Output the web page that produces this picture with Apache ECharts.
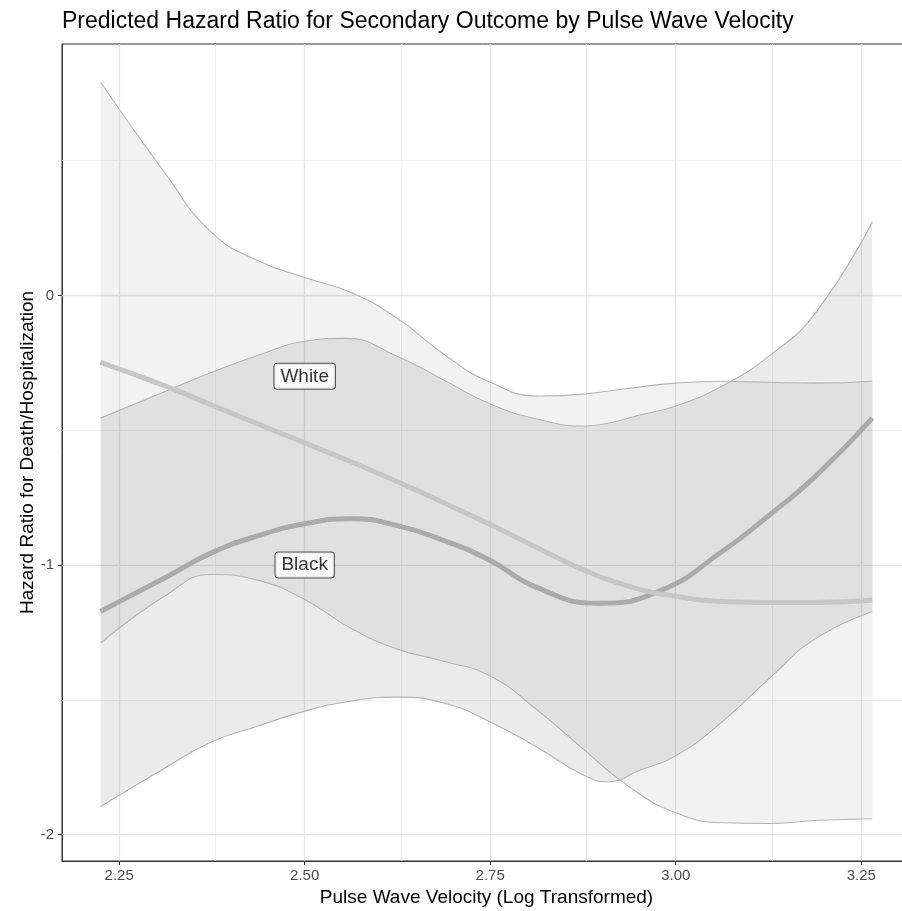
<!DOCTYPE html>
<html>
<head>
<meta charset="utf-8">
<title>Predicted Hazard Ratio by Pulse Wave Velocity</title>
<script src="https://cdn.jsdelivr.net/npm/echarts@6.0.0/dist/echarts.min.js"></script>
<style>
  html, body { margin: 0; padding: 0; background: #ffffff; }
  #chartContainer { width: 902px; height: 911px; }
</style>
</head>
<body>
<div id="chartContainer"></div>
<script>
// White group: fitted curve
const whiteFitX = [2.225, 2.3125, 2.375, 2.4375, 2.5, 2.5625, 2.625, 2.6875, 2.75,
  2.8125, 2.875, 2.9375, 3.0, 3.0625, 3.125, 3.1875, 3.265];
const whiteFit = [-0.248, -0.336, -0.407, -0.477, -0.547, -0.617, -0.691, -0.769, -0.850,
  -0.935, -1.017, -1.079, -1.116, -1.135, -1.139, -1.139, -1.131];

// White group: confidence limits
const whiteBandX = [2.225, 2.3125, 2.375, 2.4375, 2.5, 2.5625, 2.625, 2.6875, 2.75,
  2.8175, 2.875, 2.9375, 3.0, 3.0625, 3.125, 3.1875, 3.265];
const whiteHigh = [0.791, 0.451, 0.233, 0.129, 0.067, 0.011, -0.085, -0.218, -0.322,
  -0.373, -0.366, -0.344, -0.325, -0.318, -0.322, -0.325, -0.318];
const whiteLow = [-1.290, -1.113, -1.035, -1.057, -1.128, -1.235, -1.312, -1.357, -1.412,
  -1.547, -1.682, -1.823, -1.919, -1.956, -1.959, -1.948, -1.941];

// Black group: fitted curve
const blackFitX = [2.225, 2.3125, 2.375, 2.4375, 2.5, 2.5625, 2.625, 2.6875, 2.75,
  2.8125, 2.895, 2.98, 3.0625, 3.125, 3.1875, 3.265];
const blackFit = [-1.172, -1.046, -0.954, -0.891, -0.847, -0.828, -0.854, -0.909, -0.983,
  -1.083, -1.142, -1.094, -0.950, -0.817, -0.673, -0.455];

// Black group: confidence limits
const blackBandX = [2.225, 2.3125, 2.375, 2.4375, 2.5, 2.555, 2.625, 2.6875, 2.75,
  2.8125, 2.875, 2.91, 2.95, 3.0, 3.0625, 3.125, 3.1875, 3.265];
const blackHigh = [-0.455, -0.355, -0.285, -0.222, -0.170, -0.159, -0.226, -0.314, -0.403,
  -0.458, -0.484, -0.473, -0.444, -0.410, -0.336, -0.226, -0.067, 0.274];
const blackLow = [-1.896, -1.752, -1.656, -1.597, -1.542, -1.508, -1.490, -1.512, -1.582,
  -1.675, -1.778, -1.804, -1.763, -1.708, -1.582, -1.423, -1.275, -1.172];

// Text labels placed on the plot
const labelNames = ['White', 'Black'];
const labelX = [2.5, 2.5];
const labelY = [-0.3, -1.0];

// Axis ticks and grid lines
const xTicks = [2.25, 2.5, 2.75, 3.0, 3.25];
const xMinor = [2.375, 2.625, 2.875, 3.125];
const yTicks = [-2, -1, 0];
const yMinor = [-1.5, -0.5, 0.5];

const FONT = 'Liberation Sans, Arial, Helvetica, sans-serif';
const EDGE = '#b4b4b4';

const chart = echarts.init(document.getElementById('chartContainer'));

// Rows are [y, x] so the stack is applied to the y values
function rows(xs, ys) {
  return xs.map((x, i) => [ys[i], x]);
}

// A ribbon is a lower line plus the (high - low) span stacked on it
function ribbon(key, xs, low, high, fill) {
  const common = {
    type: 'line',
    stack: key,
    stackStrategy: 'all',
    encode: { x: 1, y: 0 },
    smooth: 0.5,
    symbol: 'none',
    silent: true,
    z: 10,
    lineStyle: { color: EDGE, width: 1.1 }
  };
  return [
    Object.assign({ name: key + ' lower', data: rows(xs, low) }, common),
    Object.assign({
      name: key + ' upper',
      data: rows(xs, high.map((h, i) => h - low[i])),
      areaStyle: { color: fill, opacity: 1 }
    }, common)
  ];
}

function fitLine(key, xs, ys, color) {
  return {
    name: key,
    type: 'line',
    data: xs.map((x, i) => [x, ys[i]]),
    smooth: 0.5,
    symbol: 'none',
    silent: true,
    z: 11,
    lineStyle: { color: color, width: 5 }
  };
}

const gridLines = [];
xMinor.forEach(v => gridLines.push({ xAxis: v, lineStyle: { color: '#f0f0f0', width: 1, type: 'solid' } }));
yMinor.forEach(v => gridLines.push({ yAxis: v, lineStyle: { color: '#f0f0f0', width: 1, type: 'solid' } }));
xTicks.forEach(v => gridLines.push({ xAxis: v, lineStyle: { color: '#e6e6e6', width: 1.3, type: 'solid' } }));
yTicks.forEach(v => gridLines.push({ yAxis: v, lineStyle: { color: '#e6e6e6', width: 1.3, type: 'solid' } }));

const options = {
  animation: false,
  backgroundColor: '#ffffff',
  textStyle: { fontFamily: FONT },
  title: {
    text: 'Predicted Hazard Ratio for Secondary Outcome by Pulse Wave Velocity',
    left: 62,
    top: 10,
    padding: 0,
    textStyle: { fontFamily: FONT, fontSize: 23, fontWeight: 'normal', color: '#000000' }
  },
  grid: {
    left: 62,
    right: -9,
    top: 44,
    bottom: 50,
    show: true,
    borderColor: '#333333',
    borderWidth: 1,
    outerBoundsMode: 'none',
    containLabel: false
  },
  xAxis: {
    type: 'value',
    min: 2.173,
    max: 3.317,
    name: 'Pulse Wave Velocity (Log Transformed)',
    nameLocation: 'middle',
    nameGap: 17,
    nameTextStyle: { fontFamily: FONT, fontSize: 19, color: '#000000' },
    axisLine: { show: true, onZero: false, lineStyle: { color: '#333333', width: 1 } },
    axisTick: { show: true, length: 4, customValues: xTicks, lineStyle: { color: '#333333' } },
    axisLabel: {
      customValues: xTicks,
      margin: 7,
      fontSize: 15,
      color: '#4d4d4d',
      formatter: v => v.toFixed(2)
    },
    splitLine: { show: false }
  },
  yAxis: {
    type: 'value',
    min: -2.098,
    max: 0.933,
    name: 'Hazard Ratio for Death/Hospitalization',
    nameLocation: 'middle',
    nameGap: 25,
    nameMoveOverlap: false,
    nameTextStyle: { fontFamily: FONT, fontSize: 19, color: '#000000' },
    axisLine: { show: true, onZero: false, lineStyle: { color: '#333333', width: 1 } },
    axisTick: { show: true, length: 4, customValues: yTicks, lineStyle: { color: '#333333' } },
    axisLabel: {
      customValues: yTicks,
      margin: 8,
      fontSize: 15,
      color: '#4d4d4d',
      formatter: v => String(v)
    },
    splitLine: { show: false }
  },
  series: [
    {
      name: 'grid',
      type: 'line',
      data: [],
      silent: true,
      z: 1,
      markLine: {
        silent: true,
        z: 1,
        symbol: 'none',
        label: { show: false },
        data: gridLines
      }
    },
    ...ribbon('White band', whiteBandX, whiteLow, whiteHigh, 'rgba(125,125,125,0.10)'),
    ...ribbon('Black band', blackBandX, blackLow, blackHigh, 'rgba(125,125,125,0.155)'),
    fitLine('Black', blackFitX, blackFit, '#ababab'),
    fitLine('White', whiteFitX, whiteFit, '#c6c6c6'),
    {
      name: 'labels',
      type: 'scatter',
      z: 12,
      silent: true,
      symbolSize: 0,
      data: labelNames.map((n, i) => ({ name: n, value: [labelX[i], labelY[i]] })),
      label: {
        show: true,
        position: 'inside',
        formatter: p => p.name,
        fontFamily: FONT,
        fontSize: 19,
        color: '#000000',
        backgroundColor: '#ffffff',
        borderColor: '#333333',
        borderWidth: 1,
        borderRadius: 3,
        padding: [3, 6, 3, 6]
      }
    }
  ]
};

chart.setOption(options);
</script>
</body>
</html>
